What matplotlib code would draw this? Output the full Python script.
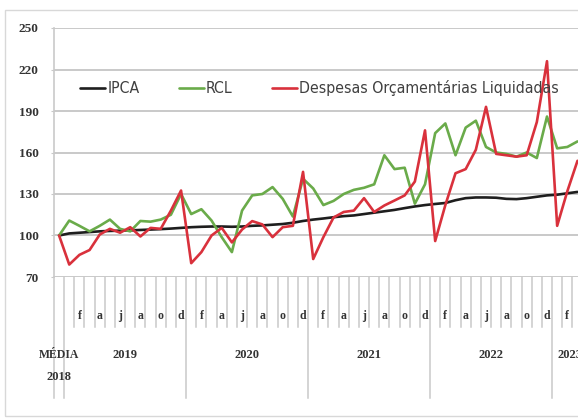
## plot.py
# Indices IPCA, RCL e despesas liquidadas (base: media 2018 = 100)

import numpy as np
import matplotlib.pyplot as plt
from matplotlib.patches import Rectangle
from matplotlib import font_manager

## Data
# position 0 = media 2018, then monthly jan/2019 .. mar/2023
ipca = [100, 101.5, 102, 102.5, 103, 103.3, 103.5, 103.7, 104, 104.3, 104.6, 105, 105.5,
        106, 106.3, 106.5, 106.5, 106.3, 106.5, 107, 107.3, 107.8, 108.3, 109.2, 110.5,
        111.5, 112.3, 113.2, 114, 114.5, 115.5, 116.5, 117.5, 118.5, 119.8, 121, 122,
        122.8, 123.5, 125.5, 127, 127.5, 127.5, 127.3, 126.5, 126.3, 127, 128, 129,
        129.5, 130.5, 131.5]
rcl = [100, 110.8, 107, 103, 107, 111.5, 104.8, 103, 110.5, 110, 111.5, 115, 130,
       115.5, 119, 110.8, 98.8, 88, 118, 129, 130, 135, 126.5, 113.7, 141,
       134, 122, 125, 130, 133, 134.5, 137, 158, 148, 149, 123, 137,
       174, 181, 158, 178, 183, 164, 160, 159, 157, 160, 156, 186,
       163, 164, 168]
despesas = [100, 79, 86, 89.5, 100.7, 104.8, 102, 106, 99.3, 105.5, 104.8, 118, 132.5,
            80, 88, 100, 105.5, 95, 104.3, 110.4, 108, 98.8, 106, 107, 146,
            83, 98.8, 113, 117, 118, 127, 117, 121.7, 125.3, 129, 139, 176,
            96, 122, 145, 148, 162, 193, 159, 158, 157, 158, 182, 226,
            107, 132, 154]

series_names = ["IPCA", "RCL", "Despesas Orçamentárias Liquidadas"]
series_colors = ["#1e1e1e", "#6aab4a", "#d9313c"]

year_names = ["2019", "2020", "2021", "2022", "2023"]
month_letters = ["", "f", "", "a", "", "j", "", "a", "", "o", "", "d"]
months_2023 = 3

yticks = [70, 100, 130, 160, 190, 220, 250]

## Figure
fig = plt.figure(figsize=(5.78, 4.2), dpi=100)
ax = fig.add_axes([54/578, 1 - 277/420, 1 - 54/578, 249/420])

x = np.arange(len(ipca))
grid_col = "#c9c9c9"
lab_col = "#333333"
lab_font = dict(family="Liberation Serif", weight="bold", color=lab_col)

for vals, name, col in zip([ipca, rcl, despesas], series_names, series_colors):
    ax.plot(x, vals, color=col, lw=1.9, label=name, solid_joinstyle="round",
            solid_capstyle="round", zorder=3)

ax.set_xlim(-0.5, 51.05)
ax.set_ylim(70, 250)
ax.set_yticks(yticks)
ax.yaxis.grid(True, color=grid_col, lw=1.4)
ax.set_axisbelow(True)
for s in ["top", "right", "bottom"]:
    ax.spines[s].set_visible(False)
ax.spines["left"].set_color(grid_col)
ax.spines["left"].set_linewidth(1.2)
ax.tick_params(axis="y", length=2, color=grid_col, pad=9, labelsize=9.5,
               labelcolor=lab_col)
for lab in ax.get_yticklabels():
    lab.set_family("Liberation Serif")
    lab.set_weight("bold")

# month letters under the axis
tick_labels = [""]
for yr in year_names[:-1]:
    tick_labels += month_letters
tick_labels += month_letters[:months_2023]
ax.set_xticks(x)
ax.set_xticklabels(tick_labels)
ax.tick_params(axis="x", length=0, pad=24, labelsize=8.5, labelcolor=lab_col)
for lab in ax.get_xticklabels():
    lab.set_family("Liberation Serif")
    lab.set_weight("bold")

# separator lines below the axis
xt = ax.get_xaxis_transform()
bounds = np.arange(len(ipca)) - 0.5
long_bounds = [-0.5, 0.5] + [0.5 + 12 * k for k in range(1, 5)]
for b in bounds:
    bottom = -0.486 if b in long_bounds else -0.2
    ax.plot([b, b], [0, bottom], transform=xt, color=grid_col, lw=1.1,
            clip_on=False, zorder=1)

# year labels
for k, yr in enumerate(year_names):
    xc = 6.5 + 12 * k if k < 4 else 50.3
    ax.text(xc, -0.313, yr, transform=xt, ha="center", va="center", fontsize=9, **lab_font)
ax.text(0, -0.313, "MÉDIA", transform=xt, ha="center", va="center", fontsize=8.5, **lab_font)
ax.text(0, -0.402, "2018", transform=xt, ha="center", va="center", fontsize=9, **lab_font)

leg_font = font_manager.FontProperties(family="DejaVu Sans", stretch="condensed", size=11.3)
leg = ax.legend(loc="center left", bbox_to_anchor=(0.0496, 0.759), ncol=3,
                frameon=False, handlelength=1.6, handletextpad=0.13,
                columnspacing=2.5, borderpad=0, borderaxespad=0, prop=leg_font)
for t in leg.get_texts():
    t.set_color("#404040")

# outer frame of the original chart
fig.patches.append(Rectangle((5/578, 4/420), 1.2, 406/420, transform=fig.transFigure,
                             fill=False, edgecolor="#d8d8d8", lw=1.0))

fig.savefig("out.png", dpi=100)
